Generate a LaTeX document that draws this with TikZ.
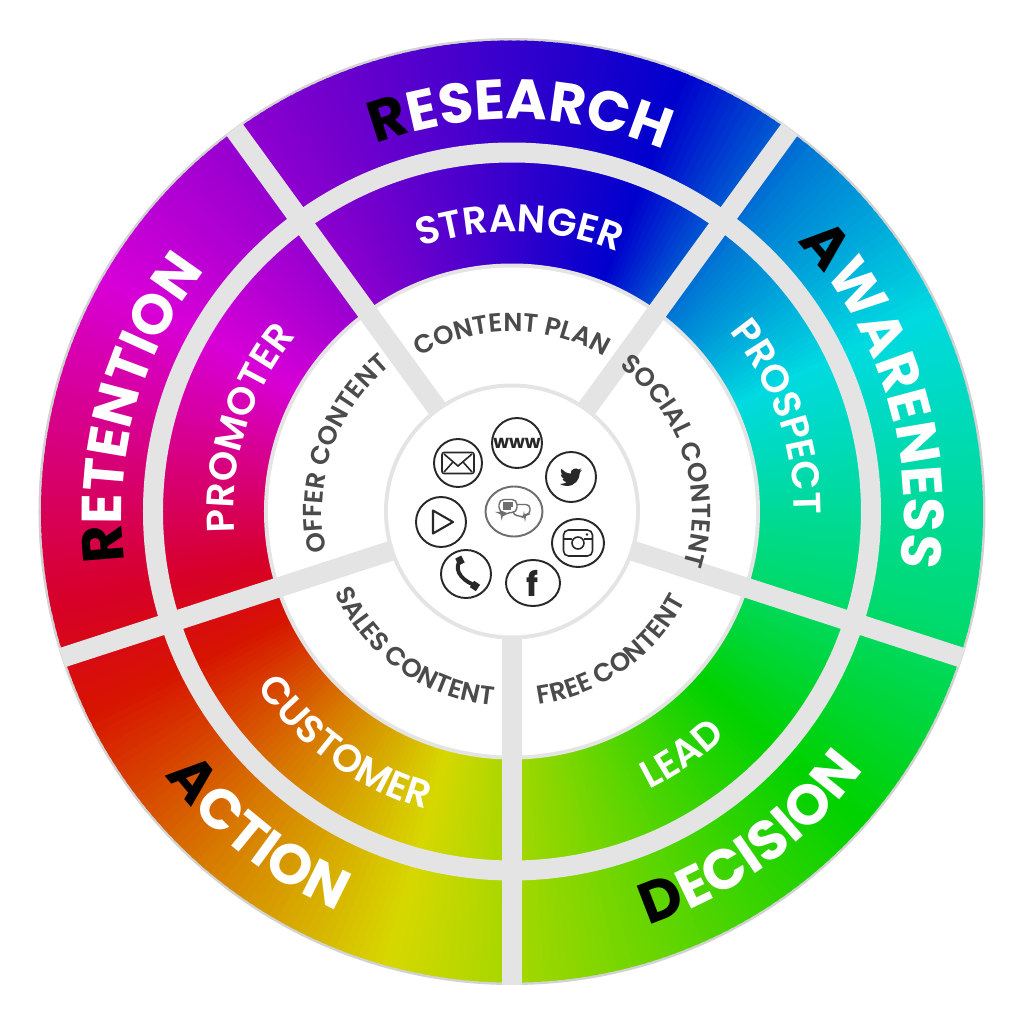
\documentclass[tikz,border=0pt]{standalone}
\usepackage{fontspec}
\setmainfont{Poppins}
\newfontface\semifont{Poppins SemiBold}
\usetikzlibrary{decorations.text,shapes.geometric}
\definecolor{gapcol}{RGB}{228,228,228}
\definecolor{rimcol}{RGB}{210,210,210}
\definecolor{labelcol}{RGB}{75,75,75}
\definecolor{iconcol}{RGB}{40,40,40}
\definecolor{chatcol}{RGB}{110,110,110}
\definecolor{wa}{RGB}{0,218,225}
\definecolor{wb}{RGB}{0,120,212}
\definecolor{wc}{RGB}{0,0,205}
\definecolor{wd}{RGB}{125,0,205}
\definecolor{we}{RGB}{215,0,215}
\definecolor{wf}{RGB}{215,0,40}
\definecolor{wg}{RGB}{215,20,0}
\definecolor{wh}{RGB}{215,120,0}
\definecolor{wi}{RGB}{215,215,0}
\definecolor{wj}{RGB}{165,215,0}
\definecolor{wk}{RGB}{0,210,0}
\definecolor{wl}{RGB}{0,218,110}
\newcommand{\outerfont}{\fontsize{16}{16}\selectfont\bfseries}
\newcommand{\capfont}{\fontsize{16.5}{16.5}\selectfont\bfseries}
\newcommand{\midfont}{\fontsize{11}{11}\selectfont\semifont}
\newcommand{\plainfont}{\fontsize{7.4}{7.4}\selectfont\semifont}
% text along an arc: centre angle, radius, text
\newcommand{\overarc}[3]{\path[decorate,decoration={text along path,text align=center,text={#3}}]
  ({#1+60}:#2) arc[start angle={#1+60},end angle={#1-60},radius=#2];}
\newcommand{\underarc}[3]{\path[decorate,decoration={text along path,text align=center,text={#3}}]
  ({#1-60}:#2) arc[start angle={#1-60},end angle={#1+60},radius=#2];}
\tikzset{
  spoke/.style = {line width=.2cm, draw=gapcol},
  gapring/.style = {line width=.2cm, draw=gapcol},
  icon/.style = {ellipse, draw=iconcol, line width=.55pt, fill=white, inner sep=0pt,
                 minimum width=#1, minimum height=.5cm},
  glyph/.style = {draw=iconcol, line width=.45pt},
  icontext/.style = {text=iconcol, font=\fontsize{#1}{#1}\selectfont\bfseries, inner sep=0pt},
}
\begin{document}
\begin{tikzpicture}
  \useasboundingbox[fill=white] (-5.12,-5.125) rectangle (5.12,5.115);
  \coordinate (hub) at (0,0);

  % colour wheel
  \fill[rimcol] (hub) circle (4.735);
  \foreach \angA/\angB/\colA/\colB in {-15/25/wl/wa,25/50/wa/wb,50/68/wb/wc,68/118/wc/wd,118/150/wd/we,
      150/191/we/wf,191/205/wf/wg,205/228/wg/wh,228/254/wh/wi,254/270/wi/wj,270/318/wj/wk,318/345/wk/wl}{
    \foreach \a in {\angA,...,\angB}{
      \pgfmathsetmacro{\mix}{100*(\a-\angA)/(\angB-\angA)}
      \fill[color=\colB!\mix!\colA] (hub) -- (\a:4.71) arc[start angle=\a,end angle=\a+1.5,radius=4.71] -- cycle;
    }
  }

  % rings and spokes
  \draw[gapring] (hub) circle (3.59);
  \fill[gapcol] (hub) circle (2.48);
  \fill[white] (hub) circle (2.44);
  \foreach \a in {-90,-18,54,126,198}{
    \draw[spoke] (\a:1.25) -- (\a:4.73);
  }
  \fill[gapcol] (hub) circle (1.28);
  \fill[white] (hub) circle (1.24);

  % outer ring
  \overarc{88.8}{3.92}{|\capfont\color{black}|R|\outerfont\color{white}|ESEARCH}
  \overarc{17.7}{3.92}{|\capfont\color{black}|A|\outerfont\color{white}|WARENESS}
  \underarc{-54}{4.36}{|\capfont\color{black}|D|\outerfont\color{white}|ECISION}
  \underarc{231.8}{4.36}{|\capfont\color{black}|A|\outerfont\color{white}|CTION}
  \overarc{164.6}{3.9}{|\capfont\color{black}|R|\outerfont\color{white}|ETENTION}

  % inner ring
  \overarc{88.5}{2.8}{|\midfont\color{white}|STRANGER}
  \overarc{19.5}{2.82}{|\midfont\color{white}|PROSPECT}
  \underarc{-55}{3.1}{|\midfont\color{white}|LEAD}
  \underarc{234.3}{3.1}{|\midfont\color{white}|CUSTOMER}
  \overarc{162.5}{2.78}{|\midfont\color{white}|PROMOTER}

  % white ring
  \overarc{90}{1.8}{|\plainfont\color{labelcol}|CONTENT PLAN}
  \overarc{18}{1.8}{|\plainfont\color{labelcol}|SOCIAL CONTENT}
  \underarc{-54.7}{1.95}{|\plainfont\color{labelcol}|FREE CONTENT}
  \underarc{234.5}{1.95}{|\plainfont\color{labelcol}|SALES CONTENT}
  \overarc{161}{1.9}{|\plainfont\color{labelcol}|OFFER CONTENT}

  % icons
  \node[icon=.5cm] (www) at (.05,.685) {};
  \node[icontext=5.2] at (www) {www};
  \node[icon=.5cm] (bird) at (.59,.345) {};
  \node[icon=.52cm, minimum height=.48cm] (insta) at (.66,-.315) {};
  \node[icon=.54cm, minimum height=.46cm] (fbook) at (.21,-.715) {};
  \node[icontext=9.5] at (fbook) {f};
  \node[icon=.5cm, minimum height=.48cm] (phone) at (-.46,-.625) {};
  \node[icon=.5cm] (play) at (-.71,-.105) {};
  \node[icon=.48cm, minimum height=.48cm] (mail) at (-.54,.485) {};
  \node[icon=.57cm, draw=chatcol] (chat) at (.02,0) {};

  \begin{scope}[shift={(bird)},x=.0092cm,y=.0092cm]
    \fill[iconcol] (11.95,7.43) -- (9.13,6.65) -- (11.29,9.37) -- (8.16,8.18)
      .. controls (5.8,11) and (-1.1,8.4) .. (-.23,3.7)
      .. controls (-4.31,3.91) and (-7.93,5.87) .. (-10.36,8.84)
      -- (-11.02,6.36) .. controls (-11.02,4.65) and (-10.15,3.15) .. (-8.83,2.26)
      -- (-11.06,2.88) .. controls (-11.06,.5) and (-9.4,-1.5) .. (-7.11,-2.01)
      -- (-9.32,-2.09) .. controls (-8.7,-4.1) and (-6.8,-5.4) .. (-4.72,-5.51)
      .. controls (-6.5,-6.9) and (-9.4,-7.8) .. (-12,-7.54)
      .. controls (-9.8,-9) and (-7.2,-9.75) .. (-4.45,-9.75)
      .. controls (4.6,-9.75) and (9.55,-2.25) .. (9.55,4.23)
      -- (9.53,4.86) -- cycle;
  \end{scope}
  \begin{scope}[shift={(insta)},x=.01cm,y=.01cm]
    \draw[glyph, rounded corners=.05cm] (-14.5,-13) rectangle (14.5,13);
    \draw[glyph] (-14.5,4) -- (-6,4) (6,4) -- (14.5,4);
    \draw[glyph] (0,0) circle (6);
    \fill[iconcol] (9,8.5) circle (1.4);
  \end{scope}
  \begin{scope}[shift={(phone)},x=.01cm,y=.01cm]
    \draw[iconcol, line width=1.1pt] (-7,12) .. controls (-12,2) and (-2,-8) .. (11,-12);
    \draw[iconcol, line width=2.2pt] (-9,12) -- (-3,15) (6,-10) -- (12,-14);
  \end{scope}
  \begin{scope}[shift={(play)},x=.01cm,y=.01cm]
    \draw[glyph, line width=.6pt, line join=round] (-8,11.5) -- (-8,-11.5) -- (12,0) -- cycle;
  \end{scope}
  \begin{scope}[shift={(mail)},x=.01cm,y=.01cm]
    \draw[glyph, rounded corners=.02cm] (-16,-10.5) rectangle (16,10.5);
    \draw[glyph] (-14,9) -- (0,-3) -- (14,9) (-14,-9) -- (-5,1) (14,-9) -- (5,1);
  \end{scope}
  \begin{scope}[shift={(chat)},x=.01cm,y=.01cm]
    \draw[draw=chatcol, line width=.4pt, rounded corners=.04cm, fill=white]
      (-1,-4) -- (6,-4) -- (11,-7) -- (10,-3) -- (16,-3) -- (16,7) -- (0,7) -- cycle;
    \draw[draw=chatcol, line width=.4pt, fill=white, rounded corners=.05cm]
      (-15,-1) -- (-15,12) -- (3,12) -- (3,-1) -- (-7,-1) -- (-12,-5) -- (-11,-1) -- cycle;
    \draw[chatcol, line width=.6pt] (-11,8) -- (-1,8) (-11,5.5) -- (-1,5.5) (-11,3) -- (-3,3);
  \end{scope}
\end{tikzpicture}
\end{document}
